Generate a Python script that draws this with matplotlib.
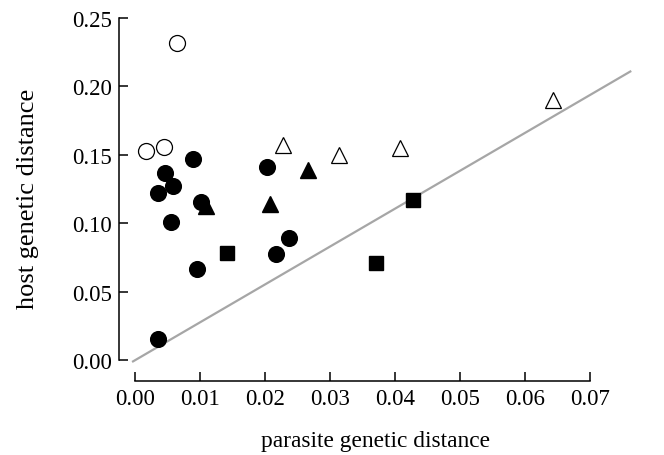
import matplotlib
matplotlib.use("Agg")
import matplotlib.pyplot as plt

plt.rcParams['font.family'] = ['Liberation Serif', 'DejaVu Serif']

# open circles
oc_x = [0.0064, 0.0017, 0.0044]
oc_y = [0.232, 0.1525, 0.1554]
# filled circles
fc_x = [0.0090, 0.0046, 0.0058, 0.0035, 0.0101, 0.0203, 0.0055, 0.0095, 0.0036, 0.0217, 0.0237]
fc_y = [0.1469, 0.1365, 0.1274, 0.1221, 0.1153, 0.1413, 0.1011, 0.0665, 0.0153, 0.0775, 0.0889]
# filled triangles
ft_x = [0.0109, 0.0207, 0.0266]
ft_y = [0.1127, 0.1140, 0.1391]
# open triangles
ot_x = [0.0227, 0.0314, 0.0408, 0.0643]
ot_y = [0.1574, 0.1501, 0.1547, 0.1900]
# filled squares
fs_x = [0.0141, 0.0371, 0.0428]
fs_y = [0.0780, 0.0709, 0.1170]
# fitted line
fit_slope = 2.77
fit_intercept = -0.0002
fit_x = [-0.0003, 0.0762]

fig = plt.figure(figsize=(6.64, 4.56), dpi=100)
ax = fig.add_axes([0.1792, 0.1623, 0.7726, 0.8048])

fit_y = [fit_slope * v + fit_intercept for v in fit_x]
ax.plot(fit_x, fit_y, color='#a6a6a6', lw=1.6, zorder=1)

ax.plot(oc_x, oc_y, 'o', ms=11.5, mfc='white', mec='black', mew=0.9, ls='none', zorder=3)
ax.plot(fc_x, fc_y, 'o', ms=11.3, mfc='black', mec='black', ls='none', zorder=3)
ax.plot(ft_x, ft_y, '^', ms=11.5, mfc='black', mec='black', ls='none', zorder=3)
ax.plot(ot_x, ot_y, '^', ms=11.5, mfc='white', mec='black', mew=0.9, ls='none', zorder=3)
ax.plot(fs_x, fs_y, 's', ms=10.6, mfc='black', mec='black', ls='none', zorder=3)

ax.set_xlim(-0.00246, 0.07646)
ax.set_ylim(-0.01535, 0.2529)
ax.spines['top'].set_visible(False)
ax.spines['right'].set_visible(False)
ax.spines['left'].set_bounds(0, 0.25)
ax.spines['bottom'].set_bounds(0, 0.07)
for s in ('left', 'bottom'):
    ax.spines[s].set_linewidth(1.1)

ax.set_xticks([0.00, 0.01, 0.02, 0.03, 0.04, 0.05, 0.06, 0.07])
ax.set_yticks([0.00, 0.05, 0.10, 0.15, 0.20, 0.25])
ax.set_xticklabels(['0.00', '0.01', '0.02', '0.03', '0.04', '0.05', '0.06', '0.07'])
ax.set_yticklabels(['0.00', '0.05', '0.10', '0.15', '0.20', '0.25'])
ax.tick_params(axis='both', direction='in', length=6.5, width=1.1, labelsize=16.5)
ax.tick_params(axis='y', pad=5)
ax.tick_params(axis='x', pad=5)

ax.set_xlabel('parasite genetic distance', fontsize=16.8, labelpad=15)
ax.set_ylabel('host genetic distance', fontsize=19, labelpad=24)

fig.savefig('out.png', dpi=100)
